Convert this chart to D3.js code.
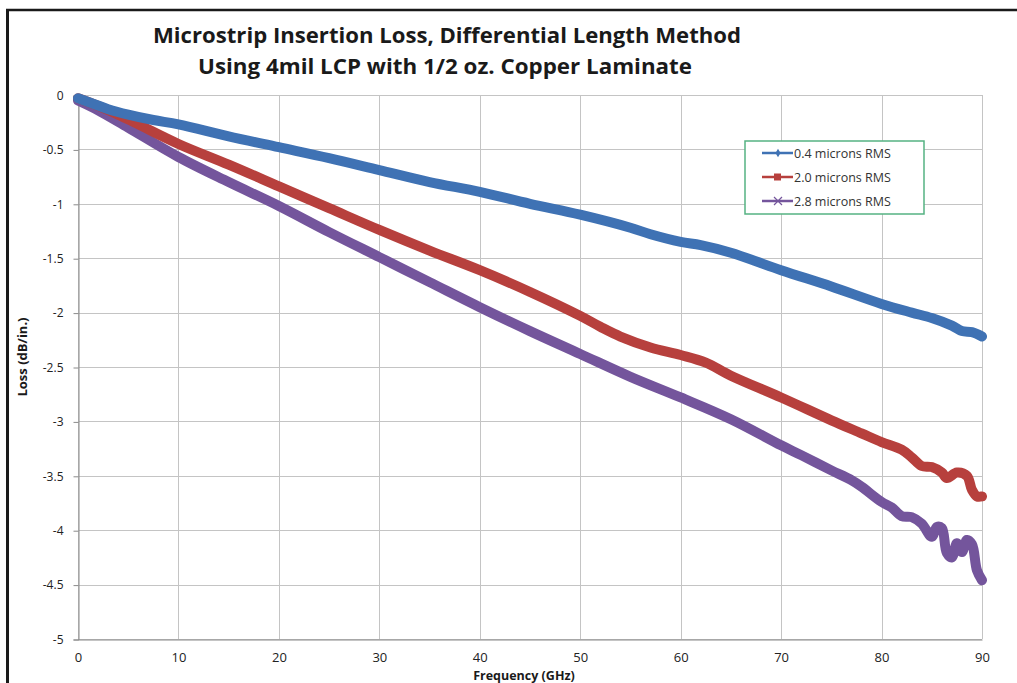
<!DOCTYPE html>
<html>
<head>
<meta charset="utf-8">
<script src="https://d3js.org/d3.v7.min.js"></script>
<style>
    body { margin: 0; background: #fff; }
    text { font-family: "Open Sans", "Liberation Sans", sans-serif; }
    .grid line { stroke: #c4c4c4; stroke-width: 1px; }
    .tick text { fill: #222; font-size: 12px; }
</style>
</head>
<body>
<script>
// frequency (GHz) and loss (dB/in.)
var freq04 = [0, 1.5, 3, 5, 7.5, 10, 15, 20, 25, 30, 35, 40, 45, 50, 55, 57, 60, 62, 65, 70, 75, 80, 83, 85, 87, 88, 89, 90];
var loss04 = [-0.03, -0.08, -0.13, -0.18, -0.23, -0.27, -0.38, -0.48, -0.58, -0.69, -0.80, -0.89, -1.00, -1.10, -1.22, -1.28, -1.35, -1.38, -1.45, -1.61, -1.76, -1.92, -2.00, -2.05, -2.12, -2.17, -2.18, -2.22];

var freq20 = [0, 2, 4, 6, 10, 15, 20, 25, 30, 35, 40, 45, 50, 52, 54, 57, 60, 62.5, 65, 70, 75, 78, 80, 82, 83, 84, 85, 86, 86.5, 87.5, 88.5, 89, 89.5, 90];
var loss20 = [-0.03, -0.10, -0.18, -0.27, -0.45, -0.64, -0.84, -1.04, -1.24, -1.43, -1.61, -1.81, -2.03, -2.13, -2.22, -2.32, -2.39, -2.46, -2.58, -2.78, -2.99, -3.11, -3.19, -3.26, -3.33, -3.41, -3.42, -3.47, -3.52, -3.47, -3.50, -3.63, -3.69, -3.69];

var freq28 = [0, 2, 5, 10, 15, 20, 25, 30, 35, 40, 45, 50, 55, 60, 65, 70, 72, 75, 77, 78, 80, 81, 82, 83, 84, 85, 85.5, 86, 86.5, 87, 87.5, 88, 88.5, 89, 89.5, 90];
var loss28 = [-0.05, -0.14, -0.30, -0.57, -0.80, -1.02, -1.26, -1.49, -1.72, -1.95, -2.17, -2.38, -2.59, -2.78, -2.98, -3.22, -3.31, -3.45, -3.54, -3.60, -3.74, -3.79, -3.87, -3.88, -3.94, -4.06, -3.97, -3.98, -4.21, -4.25, -4.12, -4.20, -4.09, -4.13, -4.37, -4.46];

var seriesNames = ["0.4 microns RMS", "2.0 microns RMS", "2.8 microns RMS"];
var seriesColors = ["#3f72b4", "#b7403d", "#74559c"];
var xTicks = [0, 10, 20, 30, 40, 50, 60, 70, 80, 90];
var yTicks = [0, -0.5, -1, -1.5, -2, -2.5, -3, -3.5, -4, -4.5, -5];

var width = 1017, height = 683;
var plotL = 78, plotR = 982, plotT = 95, plotB = 639;

var svg = d3.select("body").append("svg")
    .attr("width", width)
    .attr("height", height);

// outer frame (top and left edges show)
svg.append("line").attr("x1", 6).attr("x2", width).attr("y1", 10).attr("y2", 10)
    .attr("stroke", "#1a1a1a").attr("stroke-width", 2.5);
svg.append("line").attr("x1", 7.5).attr("x2", 7.5).attr("y1", 9).attr("y2", height)
    .attr("stroke", "#1a1a1a").attr("stroke-width", 3);

var x = d3.scaleLinear().domain([0, 90]).range([plotL, plotR]);
var y = d3.scaleLinear().domain([-5, 0]).range([plotB, plotT]);

// grid
svg.append("g").attr("class", "grid")
    .selectAll("line").data(yTicks).enter().append("line")
    .attr("x1", plotL).attr("x2", plotR)
    .attr("y1", d => Math.round(y(d)) + 0.5).attr("y2", d => Math.round(y(d)) + 0.5);
svg.append("g").attr("class", "grid")
    .selectAll("line").data(xTicks).enter().append("line")
    .attr("y1", plotT).attr("y2", plotB)
    .attr("x1", d => Math.round(x(d)) + 0.5).attr("x2", d => Math.round(x(d)) + 0.5);

// axes
var yAxis = svg.append("g")
    .attr("transform", "translate(" + (plotL + 0.5) + ",0.5)")
    .call(d3.axisLeft(y).tickValues(yTicks).tickSize(5).tickPadding(10).tickFormat(d => String(d)));
yAxis.select(".domain").attr("stroke", "#8a8a8a");
yAxis.selectAll(".tick line").attr("stroke", "#8a8a8a");

var xAxis = svg.append("g")
    .attr("transform", "translate(0," + (plotB + 0.5) + ")")
    .call(d3.axisBottom(x).tickValues(xTicks).tickSize(0).tickPadding(13));
xAxis.select(".domain").attr("stroke", "#8a8a8a");
xAxis.selectAll(".tick text").style("font-size", "13px");

// series, drawn back to front so the 0.4 micron trace sits on top
var series = [
    {freq: freq04, loss: loss04},
    {freq: freq20, loss: loss20},
    {freq: freq28, loss: loss28}
];
var line = d3.line()
    .x(d => x(d[0]))
    .y(d => y(d[1]))
    .curve(d3.curveCatmullRom.alpha(0.5));

[2, 1, 0].forEach(function (i) {
    var s = series[i];
    var pts = s.freq.map((f, j) => [f, s.loss[j]]);
    svg.append("path")
        .datum(pts)
        .attr("d", line)
        .attr("fill", "none")
        .attr("stroke", seriesColors[i])
        .attr("stroke-width", 10)
        .attr("stroke-linejoin", "round")
        .attr("stroke-linecap", "round");
});

// titles
svg.append("text")
    .attr("x", 447).attr("y", 43)
    .attr("text-anchor", "middle")
    .attr("textLength", 588).attr("lengthAdjust", "spacingAndGlyphs")
    .style("font-size", "21px").style("font-weight", "bold").style("fill", "#1a1a1a")
    .text("Microstrip Insertion Loss, Differential Length Method");
svg.append("text")
    .attr("x", 445).attr("y", 74)
    .attr("text-anchor", "middle")
    .attr("textLength", 494).attr("lengthAdjust", "spacingAndGlyphs")
    .style("font-size", "21px").style("font-weight", "bold").style("fill", "#1a1a1a")
    .text("Using 4mil LCP with 1/2 oz. Copper Laminate");

svg.append("text")
    .attr("x", 524).attr("y", 679.5)
    .attr("text-anchor", "middle")
    .style("font-size", "12.5px").style("font-weight", "bold").style("fill", "#1a1a1a")
    .text("Frequency (GHz)");
svg.append("text")
    .attr("transform", "translate(27,357) rotate(-90)")
    .attr("text-anchor", "middle")
    .style("font-size", "13px").style("font-weight", "bold").style("fill", "#1a1a1a")
    .text("Loss (dB/in.)");

// legend
var lg = svg.append("g").attr("transform", "translate(745,141)");
lg.append("rect").attr("width", 179).attr("height", 73)
    .attr("fill", "#fff").attr("stroke", "#55b282").attr("stroke-width", 1.5);
seriesNames.forEach(function (name, i) {
    var cy = 12 + i * 24;
    var row = lg.append("g").attr("transform", "translate(0," + cy + ")");
    row.append("line").attr("x1", 17).attr("x2", 48).attr("y1", 0).attr("y2", 0)
        .attr("stroke", seriesColors[i]).attr("stroke-width", 2.5);
    if (i === 0) {
        row.append("path").attr("d", d3.symbol(d3.symbolDiamond, 22)())
            .attr("transform", "translate(33,0)").attr("fill", seriesColors[i]);
    } else if (i === 1) {
        row.append("rect").attr("x", 29).attr("y", -3.5).attr("width", 7).attr("height", 7)
            .attr("fill", seriesColors[i]);
    } else {
        row.append("path").attr("d", "M29,-4L37,4M29,4L37,-4")
            .attr("stroke", seriesColors[i]).attr("stroke-width", 1.2);
    }
    row.append("text").attr("x", 49).attr("y", 4.5)
        .style("font-size", "12.5px").style("fill", "#333")
        .text(name);
});
</script>
</body>
</html>
